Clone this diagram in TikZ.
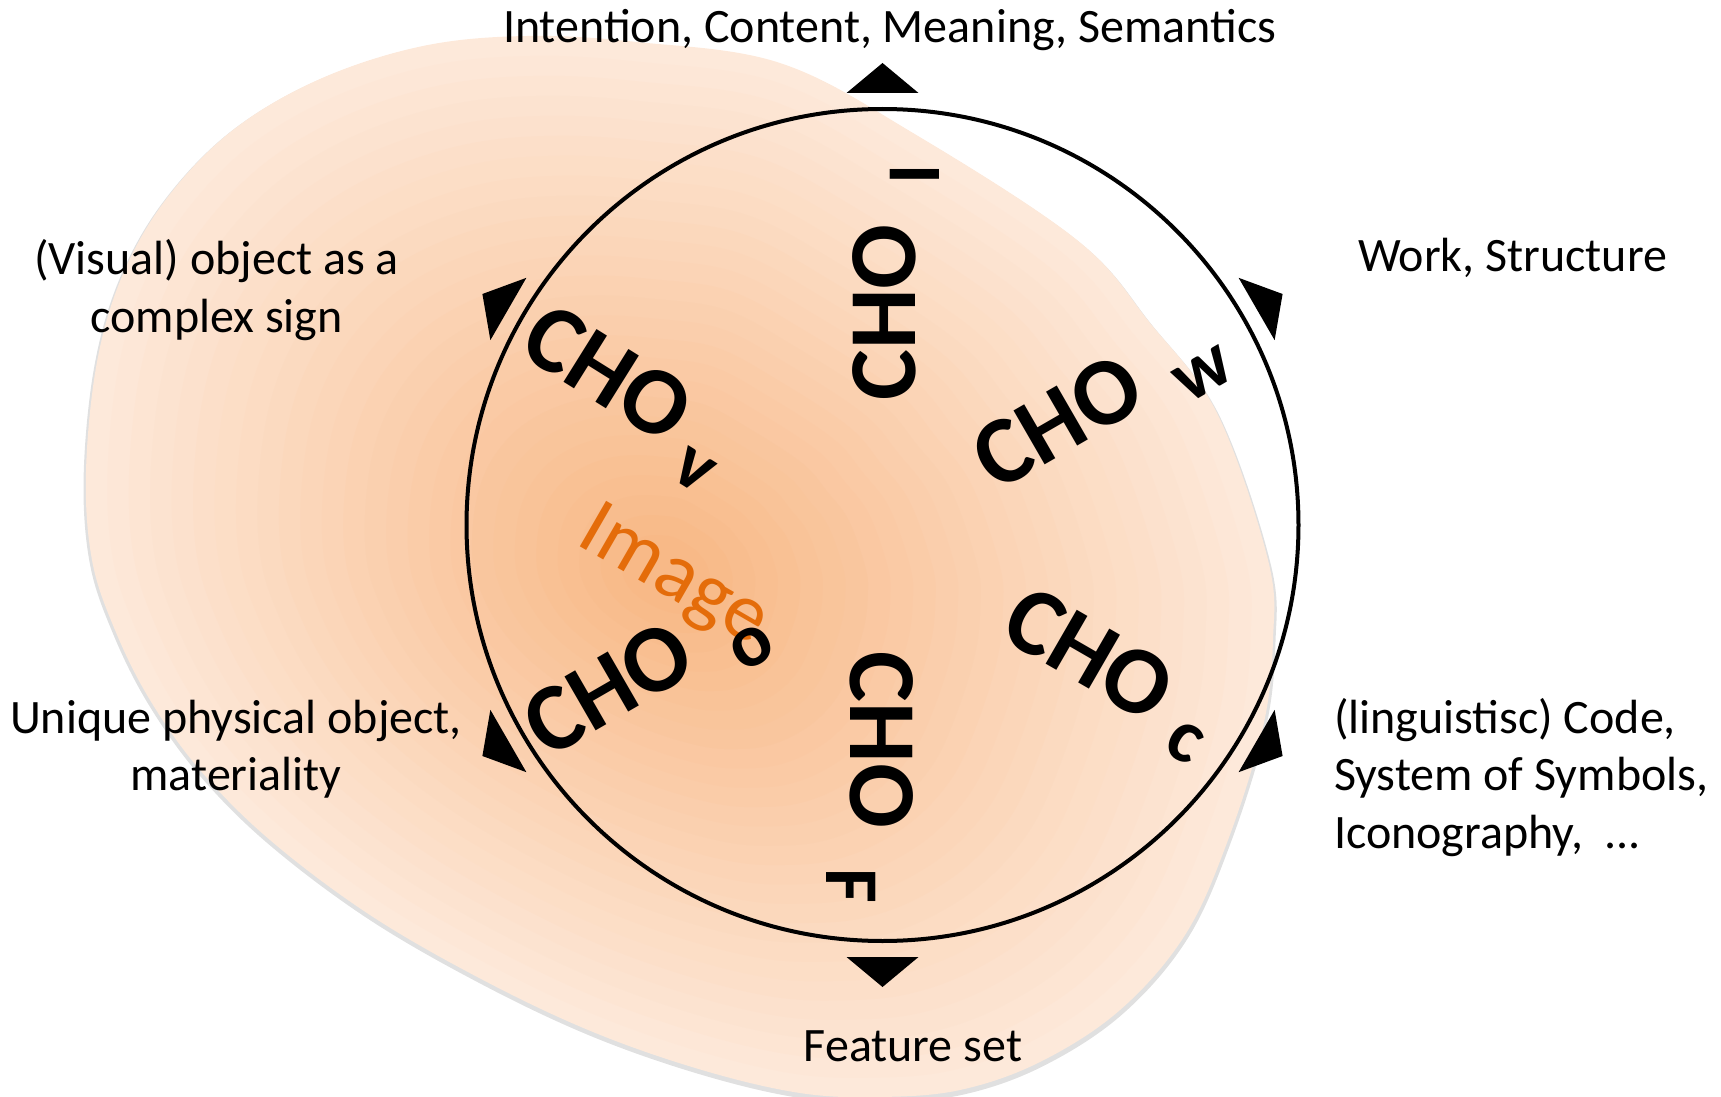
\documentclass[tikz,border=0pt]{standalone}
\usepackage{fontspec}
\setmainfont{Carlito}
\usepackage{tikz}

\definecolor{blobin}{RGB}{248,185,135}
\definecolor{blobout}{RGB}{253,233,218}
\definecolor{imgorange}{RGB}{228,108,10}

\newcommand{\lblfont}{\fontsize{24}{28.8}\selectfont}
\newcommand{\chofont}{\fontsize{48}{48}\selectfont\bfseries}
% CHO with its index letter: #1 letter, #2 gap, #3 drop
\newcommand{\cho}[3]{CHO\rlap{\hspace{#2}\smash{\raisebox{-#3}{\fontsize{38}{38}\selectfont\bfseries #1}}}}
\newcommand{\blob}{plot[smooth cycle, tension=0.6] coordinates {
	(86,472) (97,362) (123,274) (167,198) (233,130) (320,79) (423,46) (527,36)
	(637,42) (780,63) (913,133) (1077,240) (1150,323) (1217,413) (1268,560)
	(1273,640) (1263,727) (1228,840) (1185,935) (1120,1010) (1040,1062)
	(960,1090) (880,1097) (800,1093) (702,1070) (593,1032) (483,980)
	(370,915) (270,840) (200,770) (150,700) (115,630) (92,560)}}

\begin{document}
\begin{tikzpicture}[x=0.5pt,y=-0.5pt]
	\tikzstyle{lbl}=[font=\lblfont,inner sep=0pt]
	\tikzstyle{cholbl}=[font=\chofont,inner sep=0pt]
	
	\useasboundingbox (0,0) rectangle (1721,1097);
	
	% soft orange blob
	\fill[black, opacity=0.12, yshift=-1.5pt, scale around={1.004:(665,575)}] \blob;
	\foreach \i in {0,...,25}{
		\pgfmathtruncatemacro{\p}{\i*4}
		\fill[blobin!\p!blobout, scale around={1-\i/27:(665,575)}] \blob;
	}
	
	\node[draw, circle, line width=2pt, minimum size=416pt, inner sep=0pt] (ring) at (882.5,525) {};
	\foreach \a in {30,90,...,330}
		\fill[shift={(ring.center)}, rotate=\a] (462,0) -- (432,36) -- (432,-36) -- cycle;
	
	\node[font=\fontsize{41}{41}\selectfont, text=imgorange, rotate=-30, inner sep=0pt] (img) at (673,578) {Image};
	
	\node[cholbl, rotate=90]  (choI) at (884,312.5) {\cho{I}{20pt}{12pt}};
	\node[cholbl, rotate=-90] (choF) at (881.5,740) {\cho{F}{20pt}{12pt}};
	\node[cholbl, rotate=30]  (choW) at (1057.5,421.5) {\cho{w}{17pt}{10pt}};
	\node[cholbl, rotate=-30] (choC) at (1089,653.5) {\cho{c}{11.5pt}{8.5pt}};
	\node[cholbl, rotate=-32] (choV) at (608,373) {\cho{v}{9pt}{12pt}};
	\node[cholbl, rotate=30]  (choO) at (608,688) {\cho{o}{18.5pt}{12pt}};
	
	\node[lbl, anchor=base] (sem) at (889.6,42.7) {Intention, Content, Meaning, Semantics};
	\node[lbl, anchor=base west] (work) at (1357.7,271) {Work, Structure};
	\node[lbl, anchor=base, align=center] (sign) at (216.6,332) {(Visual) object as a\\complex sign};
	\node[lbl, anchor=base, align=center] (phys) at (236,790.8) {Unique physical object,\\materiality};
	\node[lbl, anchor=base west, align=left] (code) at (1333.6,848.4) {(linguistisc) Code,\\System of Symbols,\\Iconography,\ \ ...};
	\node[lbl, anchor=base] (feat) at (913,1061.4) {Feature set};
	
\end{tikzpicture}
\end{document}
